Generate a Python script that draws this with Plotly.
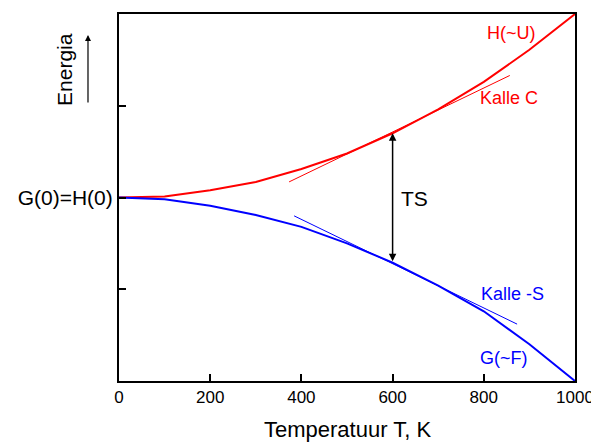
import plotly.graph_objects as go

# Data
T = [0, 100, 200, 300, 400, 500, 600, 700, 800, 900, 1000]
H = [2.00, 2.01, 2.08, 2.17, 2.31, 2.48, 2.70, 2.96, 3.26, 3.61, 4.00]
G = [2.00, 1.98, 1.91, 1.81, 1.68, 1.50, 1.29, 1.04, 0.76, 0.40, 0.00]
kalle_c_T = [373, 857]
kalle_c_E = [2.17, 3.33]
kalle_s_T = [384, 873]
kalle_s_E = [1.80, 0.62]
x_ticks = [0, 200, 400, 600, 800, 1000]
y_ticks = [1, 2, 3]
y_ticktext = ["", "G(0)=H(0)", ""]
ts_T = 600

FONT = "Liberation Sans, Arial, sans-serif"
RED = "#ff0000"
BLUE = "#0000ff"

fig = go.Figure()
fig.add_trace(go.Scatter(x=T, y=H, mode="lines", line=dict(color=RED, width=2), showlegend=False))
fig.add_trace(go.Scatter(x=T, y=G, mode="lines", line=dict(color=BLUE, width=2), showlegend=False))
fig.add_trace(go.Scatter(x=kalle_c_T, y=kalle_c_E, mode="lines", line=dict(color=RED, width=1), showlegend=False))
fig.add_trace(go.Scatter(x=kalle_s_T, y=kalle_s_E, mode="lines", line=dict(color=BLUE, width=1), showlegend=False))

i600 = T.index(ts_T)
# TS double arrow
fig.add_annotation(x=ts_T, y=H[i600], ax=ts_T, ay=G[i600], xref="x", yref="y", axref="x", ayref="y",
                   text="", showarrow=True, arrowhead=2, arrowside="end+start", arrowsize=1,
                   arrowwidth=1.5, arrowcolor="black", standoff=0, startstandoff=0)
fig.add_annotation(x=647, y=1.99, text="TS", showarrow=False, font=dict(size=21, color="black", family=FONT))

labels = [("H(~U)", 860, 3.79, RED), ("Kalle C", 855, 3.08, RED),
          ("Kalle -S", 864, 0.95, BLUE), ("G(~F)", 844, 0.25, BLUE)]
for txt, lx, ly, c in labels:
    fig.add_annotation(x=lx, y=ly, text=txt, showarrow=False, font=dict(size=18, color=c, family=FONT))

# Energia label with arrow
fig.add_annotation(x=-0.118, y=0.848, xref="paper", yref="paper", text="Energia", textangle=-90,
                   xanchor="center", yanchor="middle",
                   showarrow=False, font=dict(size=21, color="black", family=FONT))
fig.add_annotation(x=-0.068, y=0.943, xref="paper", yref="paper",
                   axref="pixel", ayref="pixel", ax=0, ay=69, text="", showarrow=True, arrowhead=2,
                   arrowsize=1, arrowwidth=1.2, arrowcolor="black", standoff=0)

# x axis title
fig.add_annotation(x=0.5, y=-0.133, xref="paper", yref="paper", text="Temperatuur T, K",
                   showarrow=False, xanchor="center", yanchor="middle",
                   font=dict(size=22, color="black", family=FONT))

# page body has an 8px default margin, so the plot area is offset to compensate
fig.update_layout(
    width=599, height=442,
    margin=dict(l=111, r=32, t=4, b=69),
    paper_bgcolor="white", plot_bgcolor="white",
    font=dict(family=FONT, color="black"),
    xaxis=dict(range=[0, 1000], tickvals=x_ticks, ticks="inside", ticklen=7, tickwidth=1.5,
               tickcolor="black", showline=True, linecolor="black", linewidth=2, mirror=True,
               showgrid=False, zeroline=False, tickfont=dict(size=17, family=FONT)),
    yaxis=dict(range=[0, 4], tickvals=y_ticks, ticktext=y_ticktext, ticks="inside", ticklen=7,
               tickwidth=1.5, tickcolor="black", showline=True, linecolor="black", linewidth=2,
               mirror=True, showgrid=False, zeroline=False, tickfont=dict(size=21, family=FONT)),
)

fig.write_html("out.html")
